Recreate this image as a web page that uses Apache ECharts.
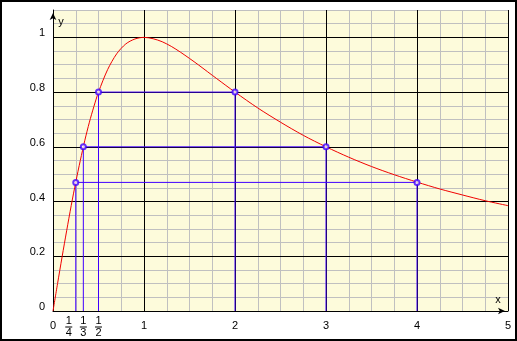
<!DOCTYPE html>
<html><head><meta charset="utf-8">
<script src="https://cdn.jsdelivr.net/npm/echarts@6/dist/echarts.min.js"></script>
<style>html,body{margin:0;padding:0;background:#fff}#c{width:517px;height:341px}</style>
</head><body><div id="c"></div>
<script>
const curveX = [0,0.05,0.1,0.15,0.2,0.25,0.3,0.35,0.4,0.45,0.5,0.6,0.7,0.8,0.9,1,1.1,1.2,1.3,1.4,1.5,1.6,1.8,2,2.25,2.5,2.75,3,3.25,3.5,3.75,4,4.25,4.5,4.75,5];
const curveY = [0,0.1,0.198,0.293,0.385,0.471,0.55,0.624,0.69,0.748,0.8,0.882,0.94,0.976,0.994,1,0.995,0.984,0.967,0.946,0.923,0.899,0.849,0.8,0.742,0.69,0.642,0.6,0.562,0.528,0.498,0.471,0.446,0.424,0.403,0.385];
const guideXLeft = [0.25, 1/3, 0.5];
const guideXRight = [4, 3, 2];
const guideY = [0.47, 0.6, 0.8];
const xTickValues = [0, 0.25, 1/3, 0.5, 1, 2, 3, 4, 5];
const xTickLabels = ['0', '1/4', '1/3', '1/2', '1', '2', '3', '4', '5'];
const yTickLabels = ['0', '0.2', '0.4', '0.6', '0.8', '1'];
const axisNames = ['x', 'y'];

const BLUE = '#4000ff', RED = '#f00000', GREY = '#c0c0c0';
const font = 'Liberation Sans, Arial, sans-serif';

const guideSeries = guideY.map((y, i) => ({
  type: 'line', xAxisIndex: 1, yAxisIndex: 1, z: 3, silent: true,
  symbol: 'none', lineStyle: { color: BLUE, width: 1 },
  data: [[guideXLeft[i], 0], [guideXLeft[i], y], [guideXRight[i], y], [guideXRight[i], 0]]
}));
const markerData = [];
guideY.forEach((y, i) => { markerData.push([guideXLeft[i], y]); markerData.push([guideXRight[i], y]); });

const chart = echarts.init(document.getElementById('c'), null, { renderer: 'canvas' });
chart.setOption({
  animation: false,
  backgroundColor: '#ffffff',
  textStyle: { fontFamily: font },
  grid: { left: 53, right: 9, top: 10, bottom: 30, show: true, backgroundColor: '#fdfbdb', borderWidth: 0 },
  xAxis: [
    { type: 'value', min: 0, max: 5, interval: 0.25, position: 'top', z: 0,
      axisLine: { show: false }, axisTick: { show: false }, axisLabel: { show: false },
      splitLine: { show: true, lineStyle: { color: GREY, width: 1 } } },
    { type: 'value', min: 0, max: 5, interval: 1, position: 'bottom', z: 1,
      axisLine: { show: true, onZero: false, symbol: ['none', 'arrow'], symbolSize: [5, 7], symbolOffset: [0, -3], lineStyle: { color: '#000', width: 1 } },
      axisTick: { show: false },
      splitLine: { show: true, lineStyle: { color: '#000', width: 1 } },
      axisLabel: {
        customValues: xTickValues, margin: 5, color: '#000', fontSize: 11, fontFamily: font,
        formatter: function (v) {
          let idx = xTickValues.findIndex(t => Math.abs(t - v) < 1e-6);
          const s = idx >= 0 ? xTickLabels[idx] : String(v);
          if (s.indexOf('/') >= 0) {
            const p = s.split('/');
            if (idx === 1) {
              return '{n|' + p[0] + '}{s| }\n{b| }{s| }\n{d|' + p[1] + '}{s| }';
            }
            return '{n|' + p[0] + '}\n{b| }\n{d|' + p[1] + '}';
          }
          return '{i|' + s + '}';
        },
        rich: {
          n: { fontSize: 11, lineHeight: 10, color: '#000', fontFamily: font },
          b: { fontSize: 1, lineHeight: 2, height: 1, width: 7, backgroundColor: '#000' },
          d: { fontSize: 11, lineHeight: 9, color: '#000', fontFamily: font },
          s: { fontSize: 1, width: 14, lineHeight: 2 },
          i: { fontSize: 11, lineHeight: 19, color: '#000', fontFamily: font }
        }
      } }
  ],
  yAxis: [
    { type: 'value', min: 0, max: 1.1, interval: 0.05, position: 'right', z: 0,
      axisLine: { show: false }, axisTick: { show: false }, axisLabel: { show: false },
      splitLine: { show: true, lineStyle: { color: GREY, width: 1 } } },
    { type: 'value', min: 0, max: 1.1, interval: 0.2, position: 'left', z: 1,
      axisLine: { show: true, onZero: false, symbol: ['none', 'arrow'], symbolSize: [5, 7], symbolOffset: [0, -3], lineStyle: { color: '#000', width: 1 } },
      axisTick: { show: false },
      splitLine: { show: true, showMaxLine: false, lineStyle: { color: '#000', width: 1 } },
      axisLabel: {
        margin: 8, color: '#000', fontSize: 11, fontFamily: font, showMaxLabel: false,
        verticalAlign: 'bottom', lineHeight: 8,
        formatter: function (v) {
          const i = Math.round(v / 0.2);
          return (Math.abs(v - i * 0.2) < 1e-6 && i < yTickLabels.length) ? yTickLabels[i] : '';
        }
      } }
  ],
  series: guideSeries.concat([
    { type: 'line', xAxisIndex: 1, yAxisIndex: 1, z: 4, silent: true, symbol: 'none', smooth: 0.3,
      lineStyle: { color: RED, width: 1 },
      data: curveX.map((x, i) => [x, curveY[i]]) },
    { type: 'scatter', xAxisIndex: 1, yAxisIndex: 1, z: 5, silent: true, symbol: 'circle', symbolSize: 5,
      itemStyle: { color: '#ffffff', borderColor: BLUE, borderWidth: 2 },
      data: markerData }
  ])
});

// axis name labels placed relative to the axis ends via the chart's own scales
const xEnd = chart.convertToPixel({ xAxisIndex: 1, yAxisIndex: 1 }, [5, 0]);
const yEnd = chart.convertToPixel({ xAxisIndex: 1, yAxisIndex: 1 }, [0, 1.1]);
chart.setOption({
  graphic: [
    { type: 'text', z: 100, silent: true, x: xEnd[0] - 10, y: xEnd[1] - 11,
      style: { text: axisNames[0], fill: '#000', font: '11px ' + font, align: 'center', verticalAlign: 'middle' } },
    { type: 'text', z: 100, silent: true, x: yEnd[0] + 8, y: yEnd[1] + 12,
      style: { text: axisNames[1], fill: '#000', font: '11px ' + font, align: 'center', verticalAlign: 'middle' } },
    { type: 'rect', z: 100, silent: true, shape: { x: 1, y: 1, width: 515, height: 339 },
      style: { fill: 'none', stroke: '#000', lineWidth: 2 } }
  ]
});
</script></body></html>
